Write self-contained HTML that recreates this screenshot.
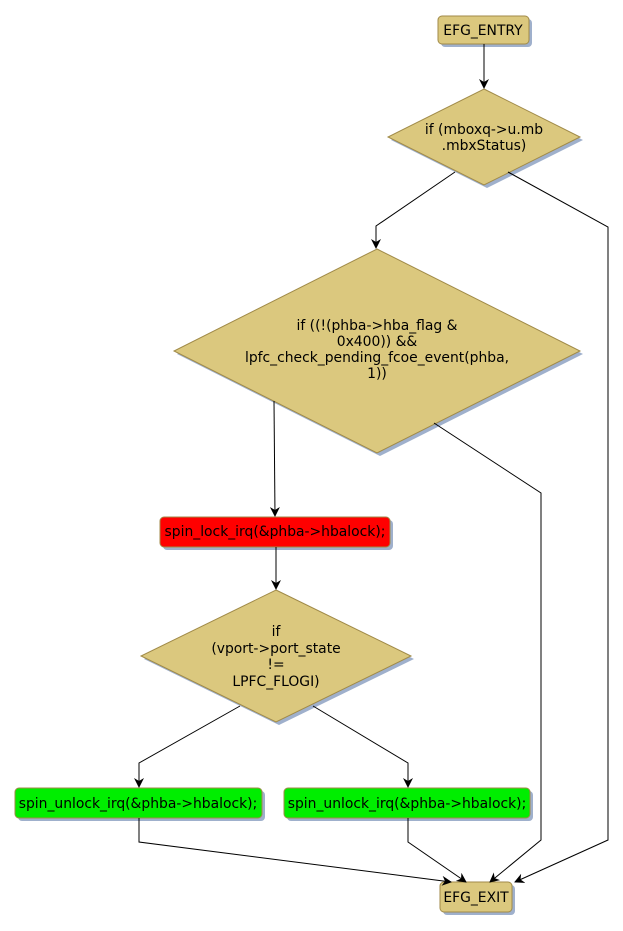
<!DOCTYPE html>
<html><head><meta charset="utf-8"><style>
html,body{margin:0;padding:0;background:#fff;width:623px;height:931px;overflow:hidden}
text{font-family:"DejaVu Sans","Liberation Sans",sans-serif;font-size:13.9px;fill:#000;text-anchor:middle}
</style></head><body>
<svg width="623" height="931" viewBox="0 0 623 931" xmlns="http://www.w3.org/2000/svg">
<defs>
<marker id="a" markerWidth="10" markerHeight="10" refX="9" refY="5" orient="auto" markerUnits="userSpaceOnUse">
<path d="M0,0 L10,5 L0,10 L3,5 z" fill="#000"/></marker>
</defs>
<g fill="#9fb0cc">
<rect x="441" y="19" width="91" height="28" rx="4"/>
<polygon points="487,92 583,140 487,188 391,140"/>
<polygon points="380,252 583,354 380,456 177,354"/>
<rect x="163" y="520" width="230" height="30" rx="4"/>
<polygon points="279,593 414,659 279,725 144,659"/>
<rect x="18" y="791" width="247" height="30" rx="4"/>
<rect x="287" y="791" width="246" height="30" rx="4"/>
<rect x="443" y="885" width="72" height="30" rx="4"/>
</g>
<g stroke="#a08a48" stroke-width="1">
<rect x="438" y="16" width="91" height="28" rx="4" fill="#dbc87e"/>
<polygon points="484,89 580,137 484,185 388,137" fill="#dbc87e"/>
<polygon points="377,249 580,351 377,453 174,351" fill="#dbc87e"/>
<rect x="160" y="517" width="230" height="30" rx="4" fill="#ff0000"/>
<polygon points="276,590 411,656 276,722 141,656" fill="#dbc87e"/>
<rect x="15" y="788" width="247" height="30" rx="4" fill="#00ee00"/>
<rect x="284" y="788" width="246" height="30" rx="4" fill="#00ee00"/>
<rect x="440" y="882" width="72" height="30" rx="4" fill="#dbc87e"/>
</g>
<g fill="none" stroke="#000" stroke-width="1">
<path d="M484,44 L484,88" marker-end="url(#a)"/>
<path d="M455,172 L376,226 L376,248" marker-end="url(#a)"/>
<path d="M508,172 L608,227 L608,840 L515,882" marker-end="url(#a)"/>
<path d="M274,401 L275,516" marker-end="url(#a)"/>
<path d="M434,423 L541,493 L541,840 L490,882" marker-end="url(#a)"/>
<path d="M276,547 L276,589" marker-end="url(#a)"/>
<path d="M240,706 L139,763 L139,787" marker-end="url(#a)"/>
<path d="M313,706 L408,763 L408,787" marker-end="url(#a)"/>
<path d="M139,818 L139,842 L451,882" marker-end="url(#a)"/>
<path d="M408,818 L408,842 L466,882" marker-end="url(#a)"/>
</g>
<text x="483" y="35">EFG_ENTRY</text>
<text x="484" y="134">if (mboxq-&gt;u.mb</text>
<text x="484" y="150">.mbxStatus)</text>
<text x="377" y="330">if ((!(phba-&gt;hba_flag &amp;</text>
<text x="377" y="346">0x400)) &amp;&amp;</text>
<text x="377" y="362">lpfc_check_pending_fcoe_event(phba,</text>
<text x="377" y="378">1))</text>
<text x="275" y="536">spin_lock_irq(&amp;phba-&gt;hbalock);</text>
<text x="276" y="636">if</text>
<text x="276" y="653">(vport-&gt;port_state</text>
<text x="276" y="669">!=</text>
<text x="276" y="686">LPFC_FLOGI)</text>
<text x="138" y="808">spin_unlock_irq(&amp;phba-&gt;hbalock);</text>
<text x="407" y="808">spin_unlock_irq(&amp;phba-&gt;hbalock);</text>
<text x="476" y="902">EFG_EXIT</text>
</svg>
</body></html>
